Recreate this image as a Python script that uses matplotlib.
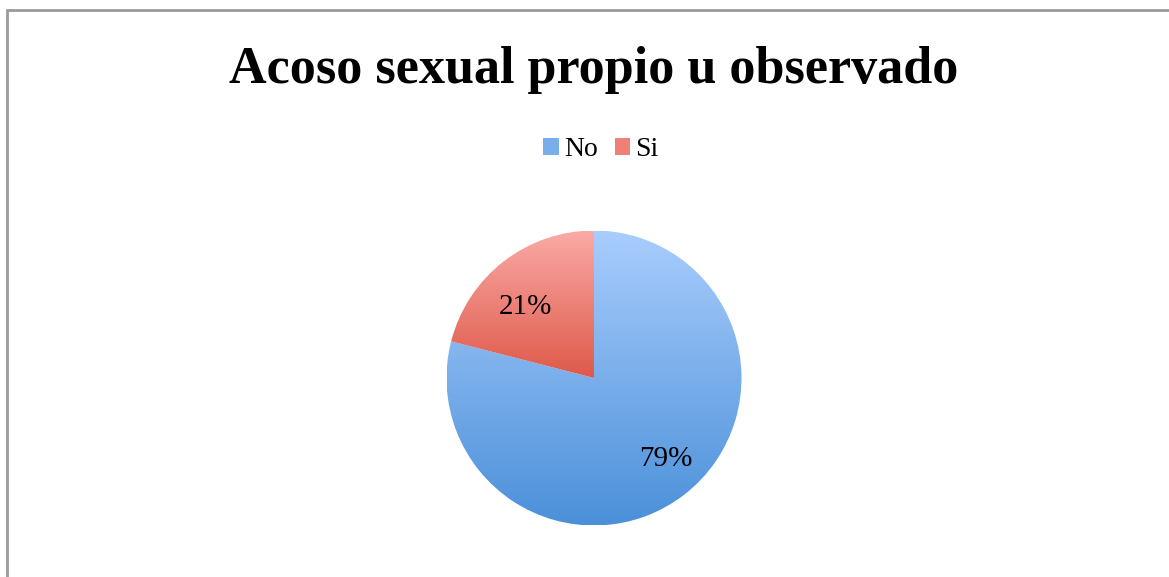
import matplotlib.pyplot as plt
import numpy as np
from matplotlib.colors import LinearSegmentedColormap
from matplotlib.patches import Patch, Rectangle

labels = ['No', 'Si']
values = [79, 21]
top_colors = ['#a9cdfd', '#fbaaa7']
bottom_colors = ['#4b90d9', '#de5949']
title = 'Acoso sexual propio u observado'

W, H = 1169, 577
fig = plt.figure(figsize=(W / 100, H / 100), dpi=100)
fig.patch.set_facecolor('white')
font = 'Liberation Serif'

# frame (only top and left edges show in the picture)
fig.patches.append(Rectangle((6.5 / W, -0.1), 1.2, 1 - 9.5 / H + 0.1, transform=fig.transFigure,
                             fill=False, edgecolor='#9a9a9a', linewidth=2))

cx, cy, r = 594, 378, 147.5
ax = fig.add_axes([(cx - r) / W, 1 - (cy + r) / H, 2 * r / W, 2 * r / H])
ax.axis('off')

wedges, texts, autotexts = ax.pie(values, startangle=90, counterclock=False, radius=1,
                                  autopct='%d%%', pctdistance=0.7,
                                  textprops={'fontsize': 21, 'family': font},
                                  wedgeprops={'linewidth': 0})

# vertical gradient for each slice, over the slice's own box
for w, c0, c1 in zip(wedges, top_colors, bottom_colors):
    w.set_facecolor('none')
    verts = w.get_path().vertices
    x0, x1 = verts[:, 0].min(), verts[:, 0].max()
    y0, y1 = verts[:, 1].min(), verts[:, 1].max()
    cmap = LinearSegmentedColormap.from_list('g', [c1, c0])
    grad = np.linspace(0, 1, 256).reshape(-1, 1)
    im = ax.imshow(grad, cmap=cmap, extent=[x0, x1, y0, y1], origin='lower',
                   aspect='auto', zorder=0)
    im.set_clip_path(w)
ax.set_xlim(-1, 1)
ax.set_ylim(-1, 1)

# labels sit a bit counter-clockwise of the slice middle, like the original
for w, t in zip(wedges, autotexts):
    ang = np.deg2rad((w.theta1 + w.theta2) / 2 + 5)
    t.set_position((0.7 * np.cos(ang) + 0.01, 0.7 * np.sin(ang) - 0.034))
    t.set_color('black')

fig.text(cx / W, 1 - 83 / H, title, ha='center', va='baseline', fontsize=37.5,
         fontweight='bold', family=font)

handles = [Patch(facecolor=c, edgecolor='none') for c in ['#78aee9', '#ee8078']]
fig.legend(handles, labels, loc='center', bbox_to_anchor=(601 / W, 1 - 150 / H), ncol=2,
           frameon=False, prop={'family': font, 'size': 20},
           handlelength=0.55, handleheight=0.55, handletextpad=0.2, columnspacing=0.6)

fig.savefig('out.png', dpi=100)
